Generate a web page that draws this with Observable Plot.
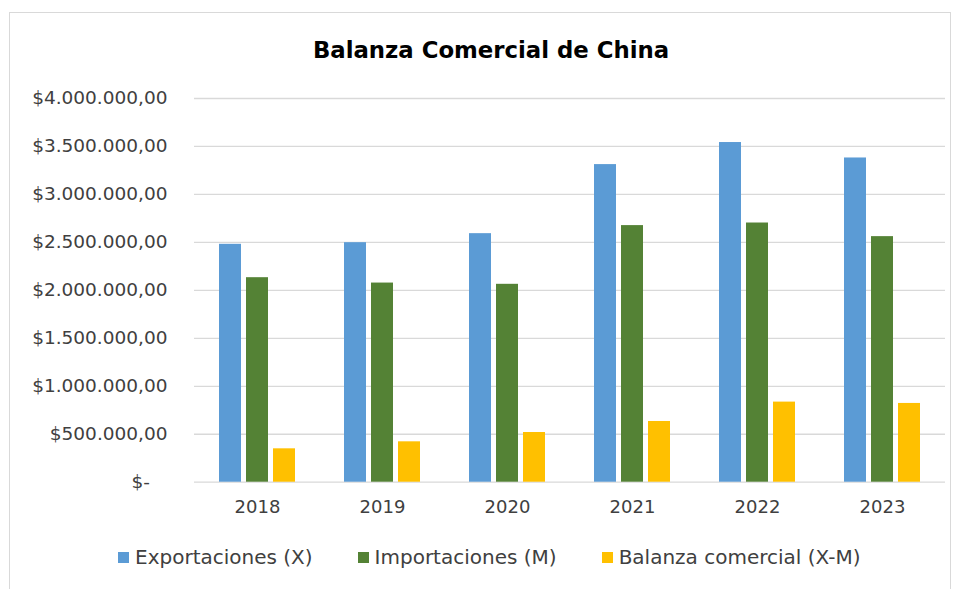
<!DOCTYPE html>
<html><head><meta charset="utf-8">
<script src="https://cdn.jsdelivr.net/npm/d3@7"></script>
<script src="https://cdn.jsdelivr.net/npm/@observablehq/plot@0.6"></script>
<style>
body{margin:0;background:#fff;font-family:"DejaVu Sans",sans-serif;width:962px;height:589px;overflow:hidden;position:relative;}
#frame{position:absolute;left:9px;top:12px;width:942px;height:640px;border:1px solid #d9d9d9;box-sizing:border-box;}
#wrap{position:absolute;left:0;top:0;width:962px;}
#title{height:80px;box-sizing:border-box;padding-top:37px;padding-left:20px;text-align:center;font-weight:bold;font-size:22.8px;line-height:26px;color:#000;}
#chart{position:relative;width:962px;height:450px;}
#chart svg{display:block;position:absolute;left:0;top:0;}
#legend{position:absolute;left:118px;top:545px;display:flex;gap:45px;font-size:20px;color:#404040;line-height:24px;}
#legend .item{display:flex;align-items:center;gap:6px;}
#legend .sw{width:11px;height:11px;display:inline-block;}
</style>
</head><body>
<div id="frame"></div>
<div id="wrap">
<div id="title">Balanza Comercial de China</div>
<div id="chart"></div>
</div>
<div id="legend"></div>
<script>
const years = ["2018", "2019", "2020", "2021", "2022", "2023"];
const series = ["Exportaciones (X)", "Importaciones (M)", "Balanza comercial (X-M)"];
const exportaciones = [2480000, 2497000, 2591000, 3311000, 3541000, 3380000];
const importaciones = [2132000, 2076000, 2063000, 2675000, 2702000, 2560000];
const balanza = [348000, 421000, 518000, 633000, 835000, 821000];
const colors = ["#5B9BD5", "#548235", "#FFC000"];
const yTicks = [0, 500000, 1000000, 1500000, 2000000, 2500000, 3000000, 3500000, 4000000];

const values = [exportaciones, importaciones, balanza];
const data = [];
years.forEach((y, i) => series.forEach((s, j) => data.push({year: y, serie: s, value: values[j][i]})));

const loc = d3.formatLocale({decimal: ",", thousands: ".", grouping: [3], currency: ["$", ""]});
const fmt = loc.format("$,.2f");
const tickFormat = d => d === 0 ? "$-\u00a0\u00a0\u00a0" : fmt(d);

const common = {
  width: 962,
  height: 450,
  marginLeft: 194,
  marginRight: 17,
  marginTop: 18,
  marginBottom: 48.3,
  style: {fontFamily: "DejaVu Sans, sans-serif", color: "#404040", background: "transparent"},
  y: {domain: [0, 4000000]}
};

// Background: grid lines and y axis across the whole frame
const back = Plot.plot({
  ...common,
  marks: [
    Plot.ruleY(yTicks, {stroke: "#d9d9d9", strokeWidth: 1.3}),
    Plot.axisY({ticks: yTicks, tickFormat, tickSize: 0, tickPadding: 27, fontSize: 18.5, label: null})
  ]
});

// Foreground: grouped bars with year facets
const front = Plot.plot({
  ...common,
  fx: {domain: years, paddingInner: 0.38, paddingOuter: 0.19, label: null},
  x: {domain: series, paddingInner: 0.2, paddingOuter: 0, axis: null},
  color: {domain: series, range: colors},
  marks: [
    Plot.barY(data, {fx: "year", x: "serie", y: "value", fill: "serie"}),
    Plot.axisFx({anchor: "bottom", tickSize: 0, tickPadding: 18, fontSize: 18, label: null}),
    Plot.axisY({ticks: [], label: null, tickSize: 0})
  ]
});
const el = document.getElementById("chart");
el.appendChild(back);
el.appendChild(front);

const legend = document.getElementById("legend");
series.forEach((s, j) => {
  const it = document.createElement("div");
  it.className = "item";
  const sw = document.createElement("span");
  sw.className = "sw";
  sw.style.background = colors[j];
  const t = document.createElement("span");
  t.textContent = s;
  it.appendChild(sw); it.appendChild(t);
  legend.appendChild(it);
});
</script>
</body></html>
